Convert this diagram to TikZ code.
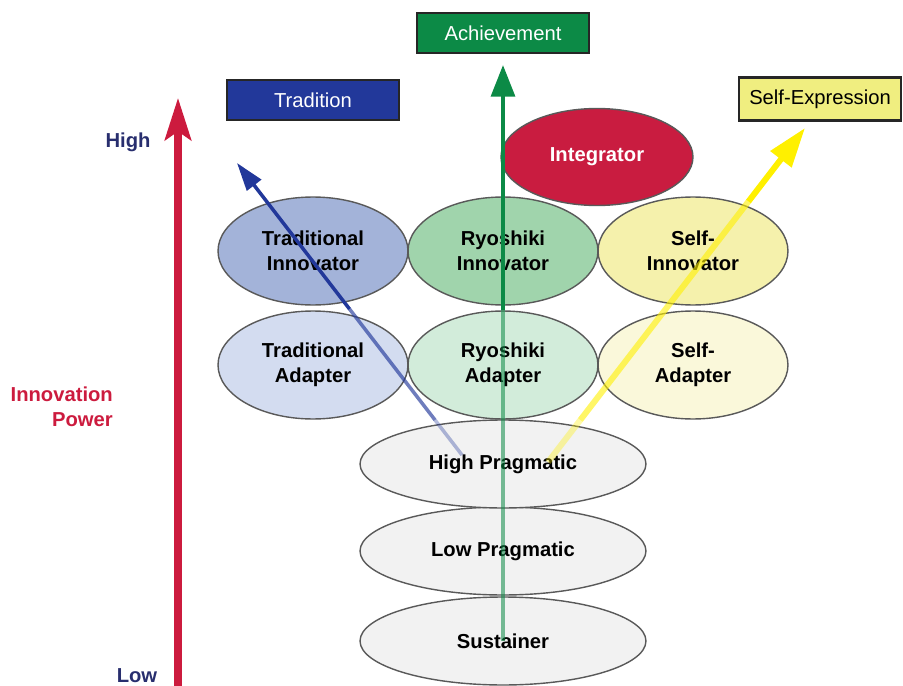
\documentclass[tikz,border=0pt]{standalone}
\usepackage{fontspec}
\setmainfont{Liberation Sans}
\usetikzlibrary{shapes.geometric,arrows.meta,calc}
\definecolor{powerred}{RGB}{204,27,62}
\definecolor{levelnavy}{RGB}{40,46,110}
\definecolor{tradblue}{RGB}{34,56,154}
\definecolor{achgreen}{RGB}{12,138,70}
\definecolor{selfyellow}{RGB}{255,240,0}
\definecolor{exprfill}{RGB}{240,238,128}
\definecolor{tradinno}{RGB}{163,179,217}
\definecolor{tradadap}{RGB}{211,220,240}
\definecolor{ryoinno}{RGB}{160,212,172}
\definecolor{ryoadap}{RGB}{210,236,218}
\definecolor{selfinno}{RGB}{245,241,172}
\definecolor{selfadap}{RGB}{250,248,218}
\definecolor{pragfill}{RGB}{242,242,242}
\definecolor{integred}{RGB}{201,28,64}

\begin{document}
\begin{tikzpicture}[x=0.02cm,y=-0.02cm,
  cell/.style={ellipse,draw=black!65,line width=0.8pt,inner sep=0pt,align=center,
    minimum width=3.8cm,minimum height=2.16cm,
    font=\fontsize{11.5}{14.2}\selectfont\bfseries},
  prag/.style={cell,fill=pragfill,minimum width=5.72cm,minimum height=1.76cm},
  valuebox/.style={draw=black!85,line width=1.2pt,inner sep=0pt,
    minimum width=3.44cm,minimum height=0.8cm,font=\fontsize{11.5}{14}\selectfont}]
\useasboundingbox (0,0) rectangle (903,686);

% value boxes
\node[valuebox,fill=achgreen,text=white] (ach) at (503,33) {Achievement};
\node[valuebox,fill=tradblue,text=white] (trad) at (313,100) {Tradition};
\node[valuebox,fill=exprfill,minimum width=3.24cm,minimum height=0.86cm] (expr) at (820,99) {Self-Expression};

% types
\node[prag] (sust) at (503,641) {Sustainer};
\node[prag] (lowp) at (503,551) {Low Pragmatic};
\node[prag] (highp) at (503,464) {High Pragmatic};
\node[cell,fill=tradadap] (tadap) at (313,365) {Traditional\\Adapter};
\node[cell,fill=ryoadap] (radap) at (503,365) {Ryoshiki\\Adapter};
\node[cell,fill=selfadap] (sadap) at (693,365) {Self-\\Adapter};
\node[cell,fill=tradinno] (tinno) at (313,251) {Traditional\\Innovator};
\node[cell,fill=ryoinno] (rinno) at (503,251) {Ryoshiki\\Innovator};
\node[cell,fill=selfinno] (sinno) at (693,251) {Self-\\Innovator};
\node[cell,fill=integred,text=white,minimum width=3.84cm,minimum height=1.94cm] (integ) at (597,157) {Integrator};

% innovation power axis
\coordinate (lowend) at (178,686);
\coordinate (highend) at (178,98);
\draw[powerred,line width=4pt,-{Stealth[length=24pt,width=15pt,inset=5pt]}] (lowend) -- (highend);
\node[text=levelnavy,font=\fontsize{11.5}{14}\selectfont\bfseries] (high) at (128,142) {High};
\node[text=levelnavy,font=\fontsize{11.5}{14}\selectfont\bfseries] (low) at (137,676) {Low};
\node[text=powerred,align=right,anchor=east,font=\fontsize{11.5}{14.2}\selectfont\bfseries] (power) at (119,407) {Innovation\\Power};

% value arrows
\coordinate (gmid) at (503,310);
\coordinate (gtip) at (503,65);
\draw[achgreen,opacity=0.55,line width=2.3pt] (sust.center) -- (gmid);
\draw[achgreen,line width=2.3pt,-{Triangle[length=18pt,width=13.5pt]}] (gmid) -- (gtip);

\coordinate (btail) at (462,455);
\coordinate (btip) at (237,163);
\draw[tradblue,opacity=0.35,line width=2pt] (btail) -- ($(btail)!0.12!(btip)$) coordinate (bl);
\draw[tradblue,opacity=0.65,line width=2pt] (bl) -- ($(btail)!0.5!(btip)$) coordinate (bm);
\draw[tradblue,line width=2pt,-{Triangle[length=16pt,width=10pt]}] (bm) -- (btip);

\coordinate (ytail) at (548,462);
\coordinate (ytip) at (805,128);
\draw[selfyellow,opacity=0.35,line width=3.4pt] (ytail) -- ($(ytail)!0.126!(ytip)$) coordinate (yl);
\draw[selfyellow,opacity=0.6,line width=3.4pt] (yl) -- ($(ytail)!0.78!(ytip)$) coordinate (ym);
\draw[selfyellow,line width=3.4pt,-{Triangle[length=22.5pt,width=14.5pt]}] (ym) -- (ytip);

\end{tikzpicture}
\end{document}
